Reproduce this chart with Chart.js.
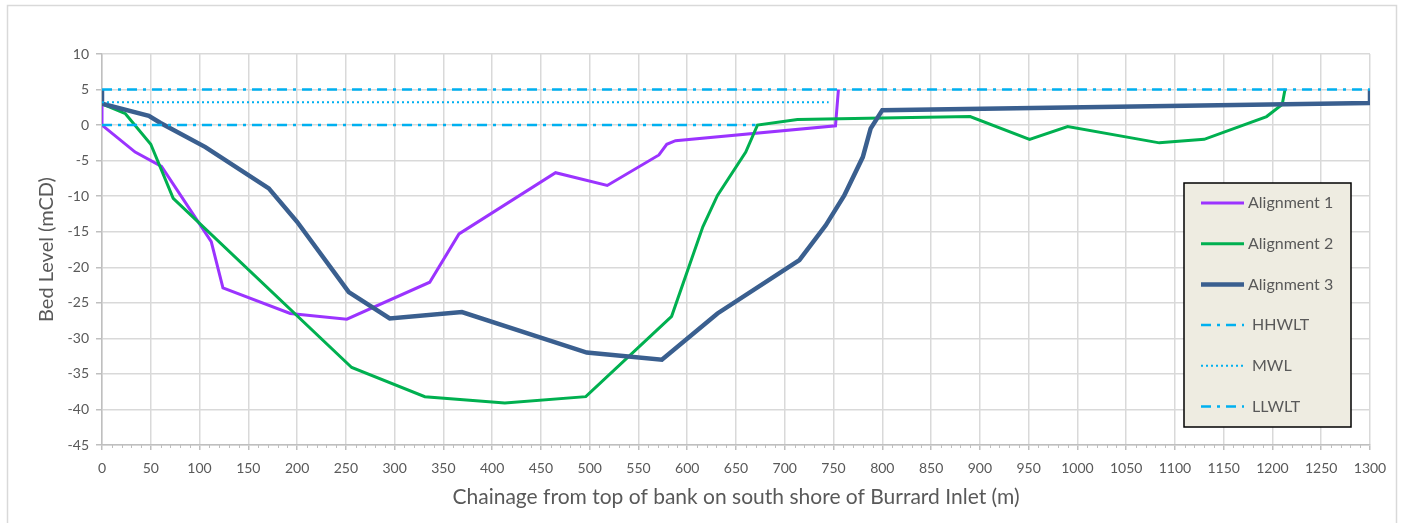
<!DOCTYPE html>
<html>
<head>
<meta charset="utf-8">
<script src="https://cdn.jsdelivr.net/npm/chart.js@4.4.1/dist/chart.umd.min.js"></script>
<style>
  html, body { margin: 0; padding: 0; background: #fff; }
  #wrap { width: 1403px; height: 523px; }
</style>
</head>
<body>
<div id="wrap"><canvas id="graph" width="1403" height="523"></canvas></div>
<script>
// chainage (m) and bed level (mCD)
const chainage1 = [0, 0, 34, 61, 112, 124, 193, 251, 336, 366, 465, 518, 571, 579, 588, 752, 755];
const level1 = [3, 0, -3.8, -5.8, -16.4, -22.9, -26.5, -27.3, -22.1, -15.3, -6.7, -8.5, -4.2, -2.7, -2.2, -0.1, 5];

const chainage2 = [0, 24, 50, 73, 256, 331, 413, 496, 584, 616, 631, 660, 672, 713, 800, 890, 951, 990, 1084, 1130, 1194, 1210, 1213];
const level2 = [3, 1.6, -2.7, -10.3, -34.1, -38.2, -39.1, -38.2, -26.9, -14.3, -9.9, -3.8, 0, 0.8, 1.0, 1.2, -2.0, -0.2, -2.5, -2.0, 1.2, 2.9, 5.1];

const chainage3 = [0, 0, 48, 60, 106, 171, 200, 253, 295, 369, 497, 574, 631, 715, 742, 761, 780, 788, 800, 1300, 1300];
const level3 = [5, 3, 1.3, 0.3, -3.1, -8.9, -13.6, -23.5, -27.2, -26.3, -32.0, -33.0, -26.5, -19.0, -14.1, -9.9, -4.5, -0.5, 2.1, 3.1, 5];

// water levels
const hhwltX = [0, 1300], hhwltY = [5, 5];
const mwlX = [0, 745], mwlY = [3.2, 3.2];
const llwltX = [0, 670], llwltY = [0, 0];

const seriesNames = ['Alignment 1', 'Alignment 2', 'Alignment 3', 'HHWLT', 'MWL', 'LLWLT'];

function pts(xs, ys) {
  return xs.map((x, i) => ({ x: x, y: ys[i] }));
}

const FONT = 'Lato, "Open Sans", sans-serif';
const GREY = '#595959';
const DASHDOT = [10, 6, 3, 6];

// outer frame + minor x ticks + legend box
const extras = {
  id: 'extras',
  beforeDraw(chart) {
    const ctx = chart.ctx;
    ctx.save();
    ctx.fillStyle = '#fff';
    ctx.fillRect(0, 0, chart.width, chart.height);
    ctx.strokeStyle = '#d9d9d9';
    ctx.lineWidth = 1.5;
    ctx.strokeRect(7.5, 5.5, 1389, 530);
    ctx.restore();
  },
  afterDraw(chart) {
    const ctx = chart.ctx;
    const xs = chart.scales.x;
    const bottom = chart.chartArea.bottom;
    ctx.save();
    ctx.strokeStyle = '#bfbfbf';
    ctx.lineWidth = 1;
    for (let v = 10; v < 1300; v += 10) {
      if (v % 50 === 0) continue;
      const px = Math.round(xs.getPixelForValue(v)) + 0.5;
      ctx.beginPath();
      ctx.moveTo(px, bottom);
      ctx.lineTo(px, bottom + 3);
      ctx.stroke();
    }

    // legend
    const left = 1184, top = 183, w = 167, h = 244;
    ctx.fillStyle = '#eeece1';
    ctx.fillRect(left, top, w, h);
    ctx.strokeStyle = '#000';
    ctx.lineWidth = 1.5;
    ctx.strokeRect(left, top, w, h);
    ctx.font = '16px ' + FONT;
    ctx.textBaseline = 'middle';
    ctx.textAlign = 'left';
    chart.data.datasets.forEach((ds, i) => {
      const y = top + 20 + i * 40.7;
      ctx.save();
      ctx.strokeStyle = ds.borderColor;
      ctx.lineWidth = ds.borderWidth;
      ctx.setLineDash(ds.borderDash || []);
      ctx.lineCap = 'butt';
      ctx.beginPath();
      ctx.moveTo(left + 17, y);
      ctx.lineTo(left + 60, y);
      ctx.stroke();
      ctx.restore();
      ctx.fillStyle = GREY;
      ctx.fillText(ds.label, left + (i < 3 ? 64 : 68), y);
    });
    ctx.restore();
  }
};

new Chart(document.getElementById('graph').getContext('2d'), {
  type: 'scatter',
  data: {
    datasets: [
      { label: seriesNames[0], data: pts(chainage1, level1), borderColor: '#9b33ff', borderWidth: 3, order: 6 },
      { label: seriesNames[1], data: pts(chainage2, level2), borderColor: '#00b050', borderWidth: 3, order: 5 },
      { label: seriesNames[2], data: pts(chainage3, level3), borderColor: '#3a5f8f', borderWidth: 4.5, order: 4 },
      { label: seriesNames[3], data: pts(hhwltX, hhwltY), borderColor: '#00b0f0', borderWidth: 2.5, borderDash: DASHDOT, order: 3 },
      { label: seriesNames[4], data: pts(mwlX, mwlY), borderColor: '#00b0f0', borderWidth: 2, borderDash: [2, 3], order: 2 },
      { label: seriesNames[5], data: pts(llwltX, llwltY), borderColor: '#00b0f0', borderWidth: 2.5, borderDash: DASHDOT, order: 1 }
    ].map(d => Object.assign({ showLine: true, pointRadius: 0, pointHoverRadius: 0, tension: 0, fill: false }, d))
  },
  options: {
    responsive: false,
    animation: false,
    devicePixelRatio: 1,
    layout: { padding: { left: 28, top: 54, right: 33, bottom: 0 } },
    plugins: {
      legend: { display: false },
      tooltip: { enabled: false }
    },
    scales: {
      x: {
        type: 'linear',
        min: 0,
        max: 1300,
        ticks: {
          stepSize: 50, color: GREY, font: { family: FONT, size: 14 }, padding: 10, maxRotation: 0, autoSkip: false,
          callback: v => String(v)
        },
        grid: { color: '#d9d9d9', lineWidth: 1.5, tickLength: 5, tickColor: '#bfbfbf' },
        border: { color: '#bfbfbf', width: 1.5 },
        title: {
          display: true,
          text: 'Chainage from top of bank on south shore of Burrard Inlet (m)',
          color: GREY,
          font: { family: FONT, size: 21 },
          padding: { top: 2, bottom: 13 }
        },
        afterFit(scale) { scale.height = 78; }
      },
      y: {
        min: -45,
        max: 10,
        ticks: { stepSize: 5, color: GREY, font: { family: FONT, size: 14 }, padding: 7 },
        grid: { color: '#d9d9d9', lineWidth: 1.5, tickLength: 6, tickColor: '#bfbfbf' },
        border: { color: '#bfbfbf', width: 1.5 },
        title: {
          display: true,
          text: 'Bed Level (mCD)',
          color: GREY,
          font: { family: FONT, size: 20 },
          padding: { top: 7, bottom: 4 }
        },
        afterFit(scale) { scale.width = 74; }
      }
    }
  },
  plugins: [extras]
});
</script>
</body>
</html>
